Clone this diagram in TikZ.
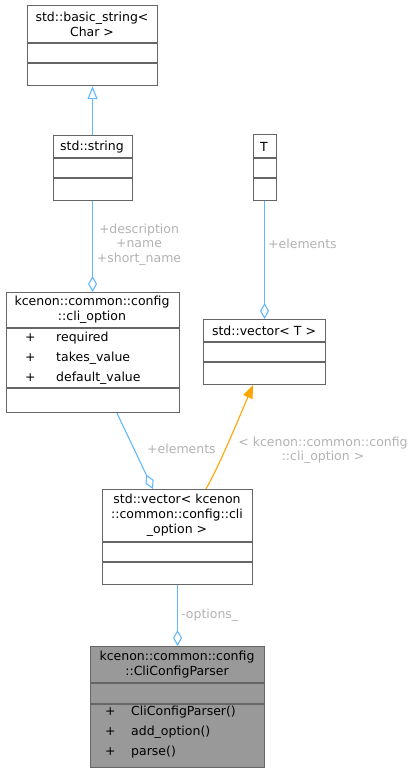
\documentclass[tikz,border=0pt]{standalone}
\usepackage{fontspec}
\setmainfont{DejaVu Sans}
\usetikzlibrary{arrows.meta}
\definecolor{boxline}{RGB}{102,102,102}
\definecolor{edgeblue}{RGB}{99,184,255}
\definecolor{edgeorange}{RGB}{255,165,0}
\definecolor{lblgray}{RGB}{178,178,178}
\definecolor{mainfill}{RGB}{153,153,153}
\tikzset{
  classbox/.style={draw=boxline, line width=1.1pt, rectangle, inner sep=0pt, anchor=north west, fill=white},
  sepline/.style={draw=boxline, line width=1.1pt},
  ttl/.style={inner sep=0pt, align=center, font=\fontsize{12.5}{15}\selectfont},
  mem/.style={inner sep=0pt, anchor=mid west, font=\fontsize{12.5}{15}\selectfont},
  lbl/.style={inner sep=0pt, align=center, text=lblgray, font=\fontsize{12.5}{14.5}\selectfont},
  agg/.style={draw=edgeblue, line width=1.1pt, {Diamond[open, length=16pt, width=9pt]}-},
  inh/.style={draw=edgeblue, line width=1.1pt, -{Triangle[open, length=13pt, width=10pt]}},
  tmpl/.style={draw=edgeorange, line width=1.1pt, -{Triangle[length=13pt, width=10pt]}},
}
\begin{document}
\begin{tikzpicture}[x=1pt, y=-1pt]
\useasboundingbox (0,0) rectangle (416,772);
% std::basic_string<Char>
\node[classbox, minimum width=130pt, minimum height=80pt] (bstr) at (27,5) {};
\draw[sepline] (27,43) -- (157,43);
\draw[sepline] (27,63) -- (157,63);
\node[ttl] (bstrt) at (92,24) {std::basic\_string<\\Char >};
% std::string
\node[classbox, minimum width=79pt, minimum height=65pt] (str) at (52.5,135) {};
\draw[sepline] (52.5,158) -- (131.5,158);
\draw[sepline] (52.5,178) -- (131.5,178);
\node[ttl] (strt) at (92,147) {std::string};
% T
\node[classbox, minimum width=23pt, minimum height=66pt] (T) at (252.5,134) {};
\draw[sepline] (252.5,158) -- (275.5,158);
\draw[sepline] (252.5,178) -- (275.5,178);
\node[ttl] (Tt) at (264,147) {T};
% cli_option
\node[classbox, minimum width=173pt, minimum height=120pt] (cli) at (5.5,292) {};
\draw[sepline] (5.5,328) -- (178.5,328);
\draw[sepline] (5.5,388) -- (178.5,388);
\node[ttl] (clit) at (92,310) {kcenon::common::config\\::cli\_option};
\node[mem] (c1p) at (25,339) {+};
\node[mem] (c1) at (56,339) {required};
\node[mem] (c2p) at (25,359) {+};
\node[mem] (c2) at (56,359) {takes\_value};
\node[mem] (c3p) at (25,379) {+};
\node[mem] (c3) at (56,379) {default\_value};
% std::vector<T>
\node[classbox, minimum width=122pt, minimum height=65pt] (vecT) at (203,319) {};
\draw[sepline] (203,342) -- (325,342);
\draw[sepline] (203,362) -- (325,362);
\node[ttl] (vecTt) at (264,331) {std::vector< T >};
% std::vector<cli_option>
\node[classbox, minimum width=150pt, minimum height=95pt] (vecK) at (102,489) {};
\draw[sepline] (102,542) -- (252,542);
\draw[sepline] (102,562) -- (252,562);
\node[ttl] (vecKt) at (177,515.5) {std::vector< kcenon\\::common::config::cli\\\_option >};
% CliConfigParser
\node[classbox, fill=mainfill, minimum width=174pt, minimum height=121pt] (parser) at (90,646) {};
\draw[sepline] (90,683) -- (264,683);
\draw[sepline] (90,704) -- (264,704);
\node[ttl] (parsert) at (177,664.5) {kcenon::common::config\\::CliConfigParser};
\node[mem] (p1p) at (105,713) {+};
\node[mem] (p1) at (131,713) {CliConfigParser()};
\node[mem] (p2p) at (105,733) {+};
\node[mem] (p2) at (131,733) {add\_option()};
\node[mem] (p3p) at (105,753) {+};
\node[mem] (p3) at (131,753) {parse()};
% edges
\draw[inh] (str.north) -- (bstr.south);
\draw[agg] (cli.north) -- (str.south);
\node[lbl] (l1) at (139,244.5) {+description\\+name\\+short\_name};
\draw[agg] (vecT.north) -- (T.south);
\node[lbl, anchor=west] (l2) at (268,244) {+elements};
\draw[agg] ([xshift=51pt]vecK.north west) -- ([xshift=111.5pt]cli.south west);
\node[lbl] (l3) at (181.5,449) {+elements};
\draw[tmpl] ([xshift=104pt]vecK.north west) .. controls (222,460) and (238,420) .. ([xshift=50pt]vecT.south west);
\node[lbl] (l4) at (323,450) {< kcenon::common::config\\::cli\_option >};
\draw[agg] (parser.north) -- (vecK.south);
\node[lbl, anchor=west] (l5) at (181,615) {-options\_};
\end{tikzpicture}
\end{document}
